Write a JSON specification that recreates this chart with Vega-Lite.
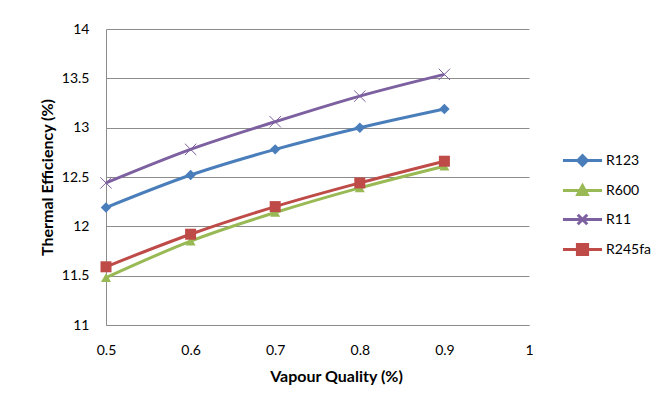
{
  "$schema": "https://vega.github.io/schema/vega-lite/v6.json",
  "autosize": "none",
  "width": 423,
  "height": 296,
  "padding": {"left": 106, "top": 29, "right": 139, "bottom": 82},
  "background": "white",
  "config": {
    "font": "Lato",
    "view": {"stroke": null},
    "axis": {"labelFont": "Lato", "titleFont": "Lato", "labelColor": "#000000", "titleColor": "#000000", "labelFontSize": 14, "titleFontSize": 16, "titleFontWeight": "bold", "domainColor": "#8c8c8c", "gridColor": "#8c8c8c", "tickSize": 0}
  },
  "data": {
    "values": [
      {"series": "R123", "q": 0.5, "eff": 12.19},
      {"series": "R123", "q": 0.6, "eff": 12.52},
      {"series": "R123", "q": 0.7, "eff": 12.78},
      {"series": "R123", "q": 0.8, "eff": 13.0},
      {"series": "R123", "q": 0.9, "eff": 13.19},
      {"series": "R600", "q": 0.5, "eff": 11.48},
      {"series": "R600", "q": 0.6, "eff": 11.85},
      {"series": "R600", "q": 0.7, "eff": 12.14},
      {"series": "R600", "q": 0.8, "eff": 12.39},
      {"series": "R600", "q": 0.9, "eff": 12.61},
      {"series": "R11", "q": 0.5, "eff": 12.44},
      {"series": "R11", "q": 0.6, "eff": 12.78},
      {"series": "R11", "q": 0.7, "eff": 13.06},
      {"series": "R11", "q": 0.8, "eff": 13.32},
      {"series": "R11", "q": 0.9, "eff": 13.54},
      {"series": "R245fa", "q": 0.5, "eff": 11.59},
      {"series": "R245fa", "q": 0.6, "eff": 11.92},
      {"series": "R245fa", "q": 0.7, "eff": 12.2},
      {"series": "R245fa", "q": 0.8, "eff": 12.44},
      {"series": "R245fa", "q": 0.9, "eff": 12.66}
    ]
  },
  "encoding": {
    "x": {"field": "q", "type": "quantitative", "scale": {"domain": [0.5, 1], "nice": false},
      "axis": {"title": "Vapour Quality (%)", "values": [0.5, 0.6, 0.7, 0.8, 0.9, 1], "format": "~g", "grid": false, "labelPadding": 18, "titlePadding": 11, "titleX": 230, "labelFlush": false}},
    "y": {"field": "eff", "type": "quantitative", "scale": {"domain": [11, 14], "nice": false, "zero": false},
      "axis": {"title": "Thermal Efficiency (%)", "values": [11, 11.5, 12, 12.5, 13, 13.5, 14], "format": "~g", "grid": true, "labelPadding": 17, "titlePadding": 6}}
  },
  "layer": [
    {
      "mark": {"type": "line", "strokeWidth": 3, "interpolate": "monotone"},
      "encoding": {
        "color": {"field": "series", "type": "nominal",
          "scale": {"domain": ["R123", "R600", "R11", "R245fa"], "range": ["#4a7ebb", "#98b954", "#7d60a0", "#be4b48"]},
          "legend": {"title": null, "orient": "none", "legendX": 458, "legendY": 113, "symbolSize": 1156, "symbolStrokeWidth": 3, "labelFont": "Lato", "labelFontSize": 14, "labelColor": "#000000", "labelOffset": 5, "rowPadding": 0, "padding": 0,
            "encode": {"symbols": {"update": {
              "shape": {"signal": "datum.value === 'R123' ? 'M-1.15,0H1.15M-0.28,0L0,-0.28L0.28,0L0,0.28Z' : datum.value === 'R600' ? 'M-1.15,0H1.15M-0.28,0.24L0,-0.28L0.28,0.24Z' : datum.value === 'R11' ? 'M-1.15,0H1.15M-0.28,-0.28L0.28,0.28M0.28,-0.28L-0.28,0.28' : 'M-1.15,0H1.15M-0.3,-0.3H0.3V0.3H-0.3Z'"},
              "fill": {"signal": "scale('color', datum.value)"},
              "stroke": {"signal": "scale('color', datum.value)"}
            }}}}
        }
      }
    },
    {
      "transform": [{"filter": "datum.series === 'R123'"}],
      "mark": {"type": "point", "shape": "diamond", "filled": true, "opacity": 1, "color": "#4a7ebb", "size": 110}
    },
    {
      "transform": [{"filter": "datum.series === 'R600'"}],
      "mark": {"type": "point", "shape": "triangle-up", "filled": true, "opacity": 1, "color": "#98b954", "size": 100}
    },
    {
      "transform": [{"filter": "datum.series === 'R11'"}],
      "mark": {"type": "point", "shape": "M-1,-1L1,1M1,-1L-1,1", "filled": false, "opacity": 1, "color": "#7d60a0", "strokeWidth": 1, "size": 130}
    },
    {
      "transform": [{"filter": "datum.series === 'R245fa'"}],
      "mark": {"type": "point", "shape": "square", "filled": true, "opacity": 1, "color": "#be4b48", "size": 121}
    }
  ]
}
